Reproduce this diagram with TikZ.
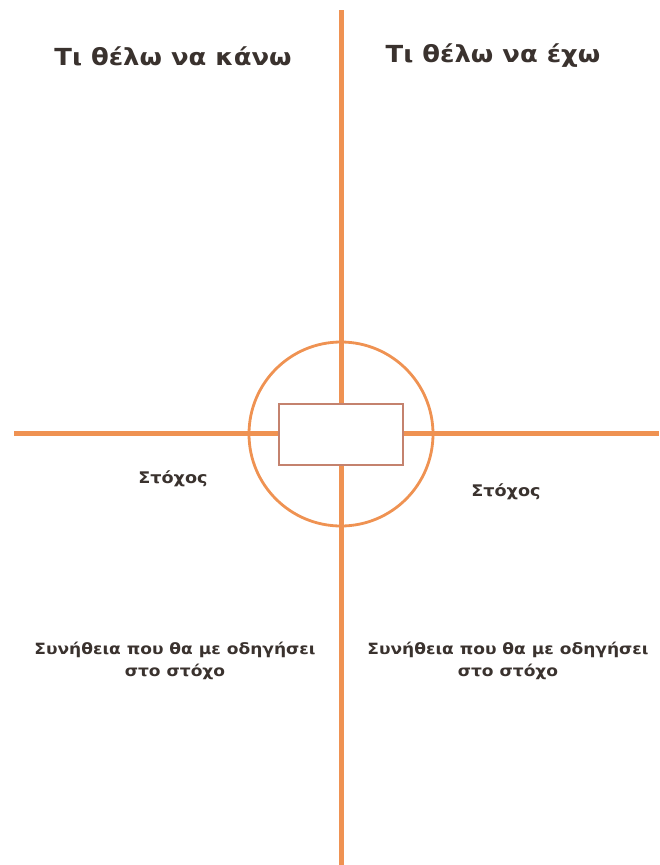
\documentclass[tikz,border=0pt]{standalone}
\usepackage{fontspec}
\setmainfont{DejaVu Sans}
\newfontfamily\widefont[FakeStretch=1.1]{DejaVu Sans}
\definecolor{axis}{RGB}{239,146,82}
\definecolor{boxline}{RGB}{196,130,110}
\definecolor{ink}{RGB}{58,50,46}
\begin{document}
\begin{tikzpicture}[x=1pt,y=-1pt,
  axisline/.style={draw=axis,line width=5pt},
  title/.style={text=ink,font=\widefont\fontsize{23.5}{28}\selectfont\bfseries,inner sep=0pt},
  goal/.style={text=ink,font=\widefont\fontsize{16}{19}\selectfont\bfseries,inner sep=0pt},
  habit/.style={text=ink,font=\widefont\fontsize{15.5}{22}\selectfont\bfseries,inner sep=0pt,align=center}]
\useasboundingbox[fill=white] (0,0) rectangle (659,865);
\coordinate (top) at (341,10);
\coordinate (bottom) at (341,865);
\coordinate (left) at (14,433);
\coordinate (right) at (659,433);
\path[axisline] (top) -- (bottom);
\path[axisline] (left) -- (right);
\node[draw=axis,line width=2.8pt,circle,minimum size=184pt,inner sep=0pt] (ring) at (341,434) {};
\node[draw=boxline,line width=1.2pt,fill=white,minimum width=124pt,minimum height=61pt,inner sep=0pt] (box) at (341,434.5) {};
\node[title] (t1) at (173,56) {Τι θέλω να κάνω};
\node[title] (t2) at (493,56) {Τι θέλω να έχω};
\node[goal] (g1) at (173,479) {Στόχος};
\node[goal] (g2) at (506,492) {Στόχος};
\node[habit] (h1) at (175,661) {Συνήθεια που θα με οδηγήσει\\στο στόχο};
\node[habit] (h2) at (508,661) {Συνήθεια που θα με οδηγήσει\\στο στόχο};
\end{tikzpicture}
\end{document}
